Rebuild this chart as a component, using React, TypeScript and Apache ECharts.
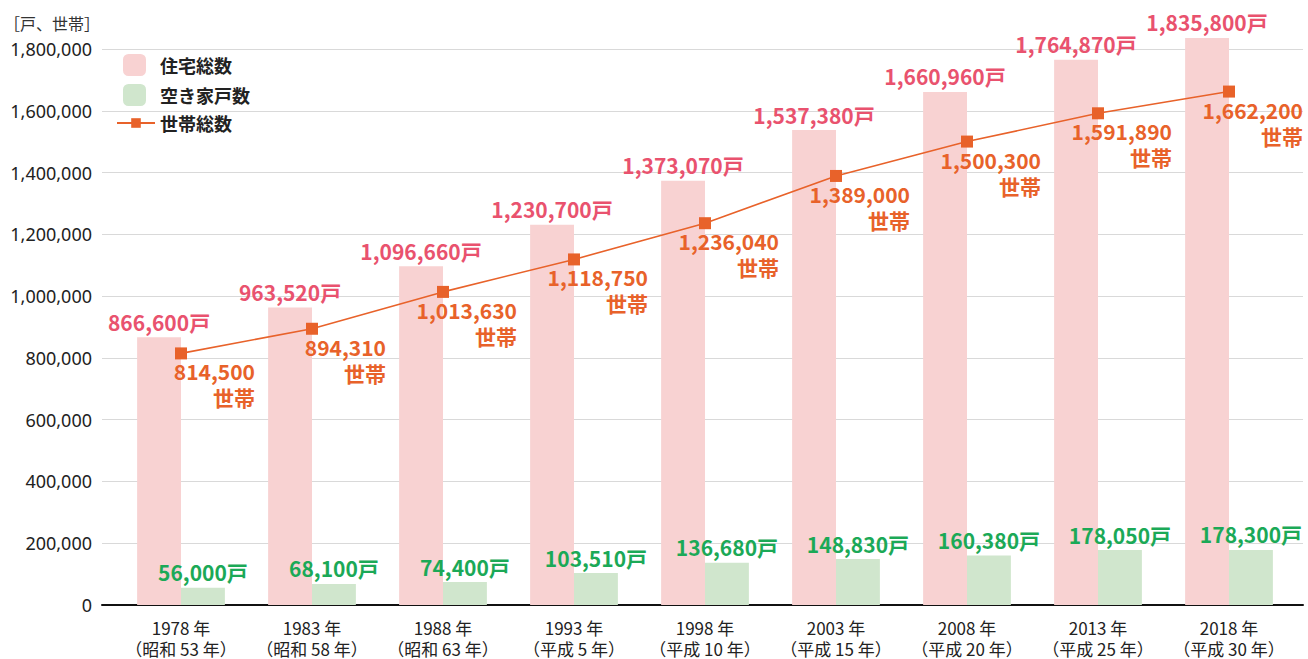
import React, { useEffect, useRef } from "react";
import * as echarts from "echarts";

const categories = [
  "1978 年\n（昭和 53 年）",
  "1983 年\n（昭和 58 年）",
  "1988 年\n（昭和 63 年）",
  "1993 年\n（平成 5 年）",
  "1998 年\n（平成 10 年）",
  "2003 年\n（平成 15 年）",
  "2008 年\n（平成 20 年）",
  "2013 年\n（平成 25 年）",
  "2018 年\n（平成 30 年）",
];
const housing = [866600, 963520, 1096660, 1230700, 1373070, 1537380, 1660960, 1764870, 1835800];
const vacant = [56000, 68100, 74400, 103510, 136680, 148830, 160380, 178050, 178300];
const households = [814500, 894310, 1013630, 1118750, 1236040, 1389000, 1500300, 1591890, 1662200];

const FONT = "'Noto Sans CJK JP', 'Noto Sans', sans-serif";
const fmt = (v: number) => v.toLocaleString("en-US");

export default function App() {
  const ref = useRef<HTMLDivElement>(null);
  useEffect(() => {
    const chart = echarts.init(ref.current!, null, { renderer: "svg" });
    chart.setOption({
      animation: false,
      textStyle: { fontFamily: FONT },
      grid: [
        { left: 115.5, right: 13.5, top: 49, bottom: 54 },
        { left: 102, right: 5, top: 49, bottom: 54 },
      ],
      legend: [
        {
          data: ["住宅総数", "空き家戸数"],
          orient: "vertical",
          left: 123,
          top: 54,
          padding: 0,
          itemWidth: 23,
          itemHeight: 22,
          itemGap: 8,
          textStyle: { fontSize: 18, fontWeight: "bold", color: "#222", fontFamily: FONT, padding: [0, 0, 0, 9] },
        },
        {
          data: ["世帯総数"],
          orient: "vertical",
          left: 116,
          top: 114,
          padding: 0,
          itemWidth: 38,
          itemHeight: 12,
          textStyle: { fontSize: 18, fontWeight: "bold", color: "#222", fontFamily: FONT },
        },
      ],
      graphic: [
        {
          type: "text",
          left: 4,
          top: 15,
          style: { text: "［戸、世帯］", fontSize: 16, fill: "#333", fontFamily: FONT },
        },
      ],
      xAxis: [
        {
          type: "category",
          gridIndex: 0,
          data: categories,
          axisLine: { show: false },
          axisTick: { show: false },
          axisLabel: { interval: 0, hideOverlap: false, fontSize: 17, color: "#222", lineHeight: 21, margin: 12, fontFamily: FONT },
        },
        {
          type: "value",
          gridIndex: 1,
          min: 0,
          max: 1,
          axisLine: { show: true, lineStyle: { color: "#111", width: 2 } },
          axisTick: { show: false },
          axisLabel: { show: false },
          splitLine: { show: false },
        },
      ],
      yAxis: [
        {
          type: "value",
          gridIndex: 0,
          min: 0,
          max: 1800000,
          interval: 200000,
          axisLine: { show: false },
          axisTick: { show: false },
          axisLabel: { show: false },
          splitLine: { show: false },
        },
        {
          type: "value",
          gridIndex: 1,
          min: 0,
          max: 1800000,
          interval: 200000,
          axisLine: { show: false },
          axisTick: { show: false },
          axisLabel: { fontSize: 18, color: "#222", margin: 10, fontFamily: "'Noto Sans', sans-serif", formatter: (v: number) => fmt(v) },
          splitLine: { show: true, lineStyle: { color: "#d9d9d9", width: 1 } },
        },
      ],
      series: [
        {
          name: "住宅総数",
          type: "bar",
          xAxisIndex: 0,
          yAxisIndex: 0,
          data: housing,
          clip: false,
          barGap: "0%",
          barCategoryGap: "33%",
          itemStyle: { color: "#F8D2D2" },
          label: {
            show: true,
            position: "top",
            distance: 5,
            fontSize: 21,
            fontWeight: "bold",
            color: "#E9526E",
            fontFamily: FONT,
            formatter: (p: any) => fmt(p.value) + "戸",
          },
          z: 2,
        },
        {
          name: "空き家戸数",
          type: "bar",
          xAxisIndex: 0,
          yAxisIndex: 0,
          data: vacant,
          barGap: "0%",
          barCategoryGap: "33%",
          itemStyle: { color: "#D0E6CD" },
          label: {
            show: true,
            position: "top",
            distance: 5,
            fontSize: 21,
            fontWeight: "bold",
            color: "#1BA957",
            fontFamily: FONT,
            formatter: (p: any) => fmt(p.value) + "戸",
          },
          z: 2,
        },
        {
          name: "世帯総数",
          type: "line",
          xAxisIndex: 0,
          yAxisIndex: 0,
          data: households,
          symbol: "rect",
          symbolSize: 12,
          lineStyle: { color: "#E8622A", width: 1.6 },
          itemStyle: { color: "#E8622A" },
          label: {
            show: true,
            position: "bottom",
            distance: 0,
            align: "right",
            offset: [74, -1],
            fontSize: 21,
            lineHeight: 26,
            fontWeight: "bold",
            color: "#E8622A",
            fontFamily: FONT,
            formatter: (p: any) => fmt(p.value) + "\n世帯",
          },
          z: 4,
        },
      ],
    });
    return () => chart.dispose();
  }, []);
  return <div ref={ref} style={{ width: 1308, height: 659, position: "absolute", left: 0, top: 0 }} />;
}
